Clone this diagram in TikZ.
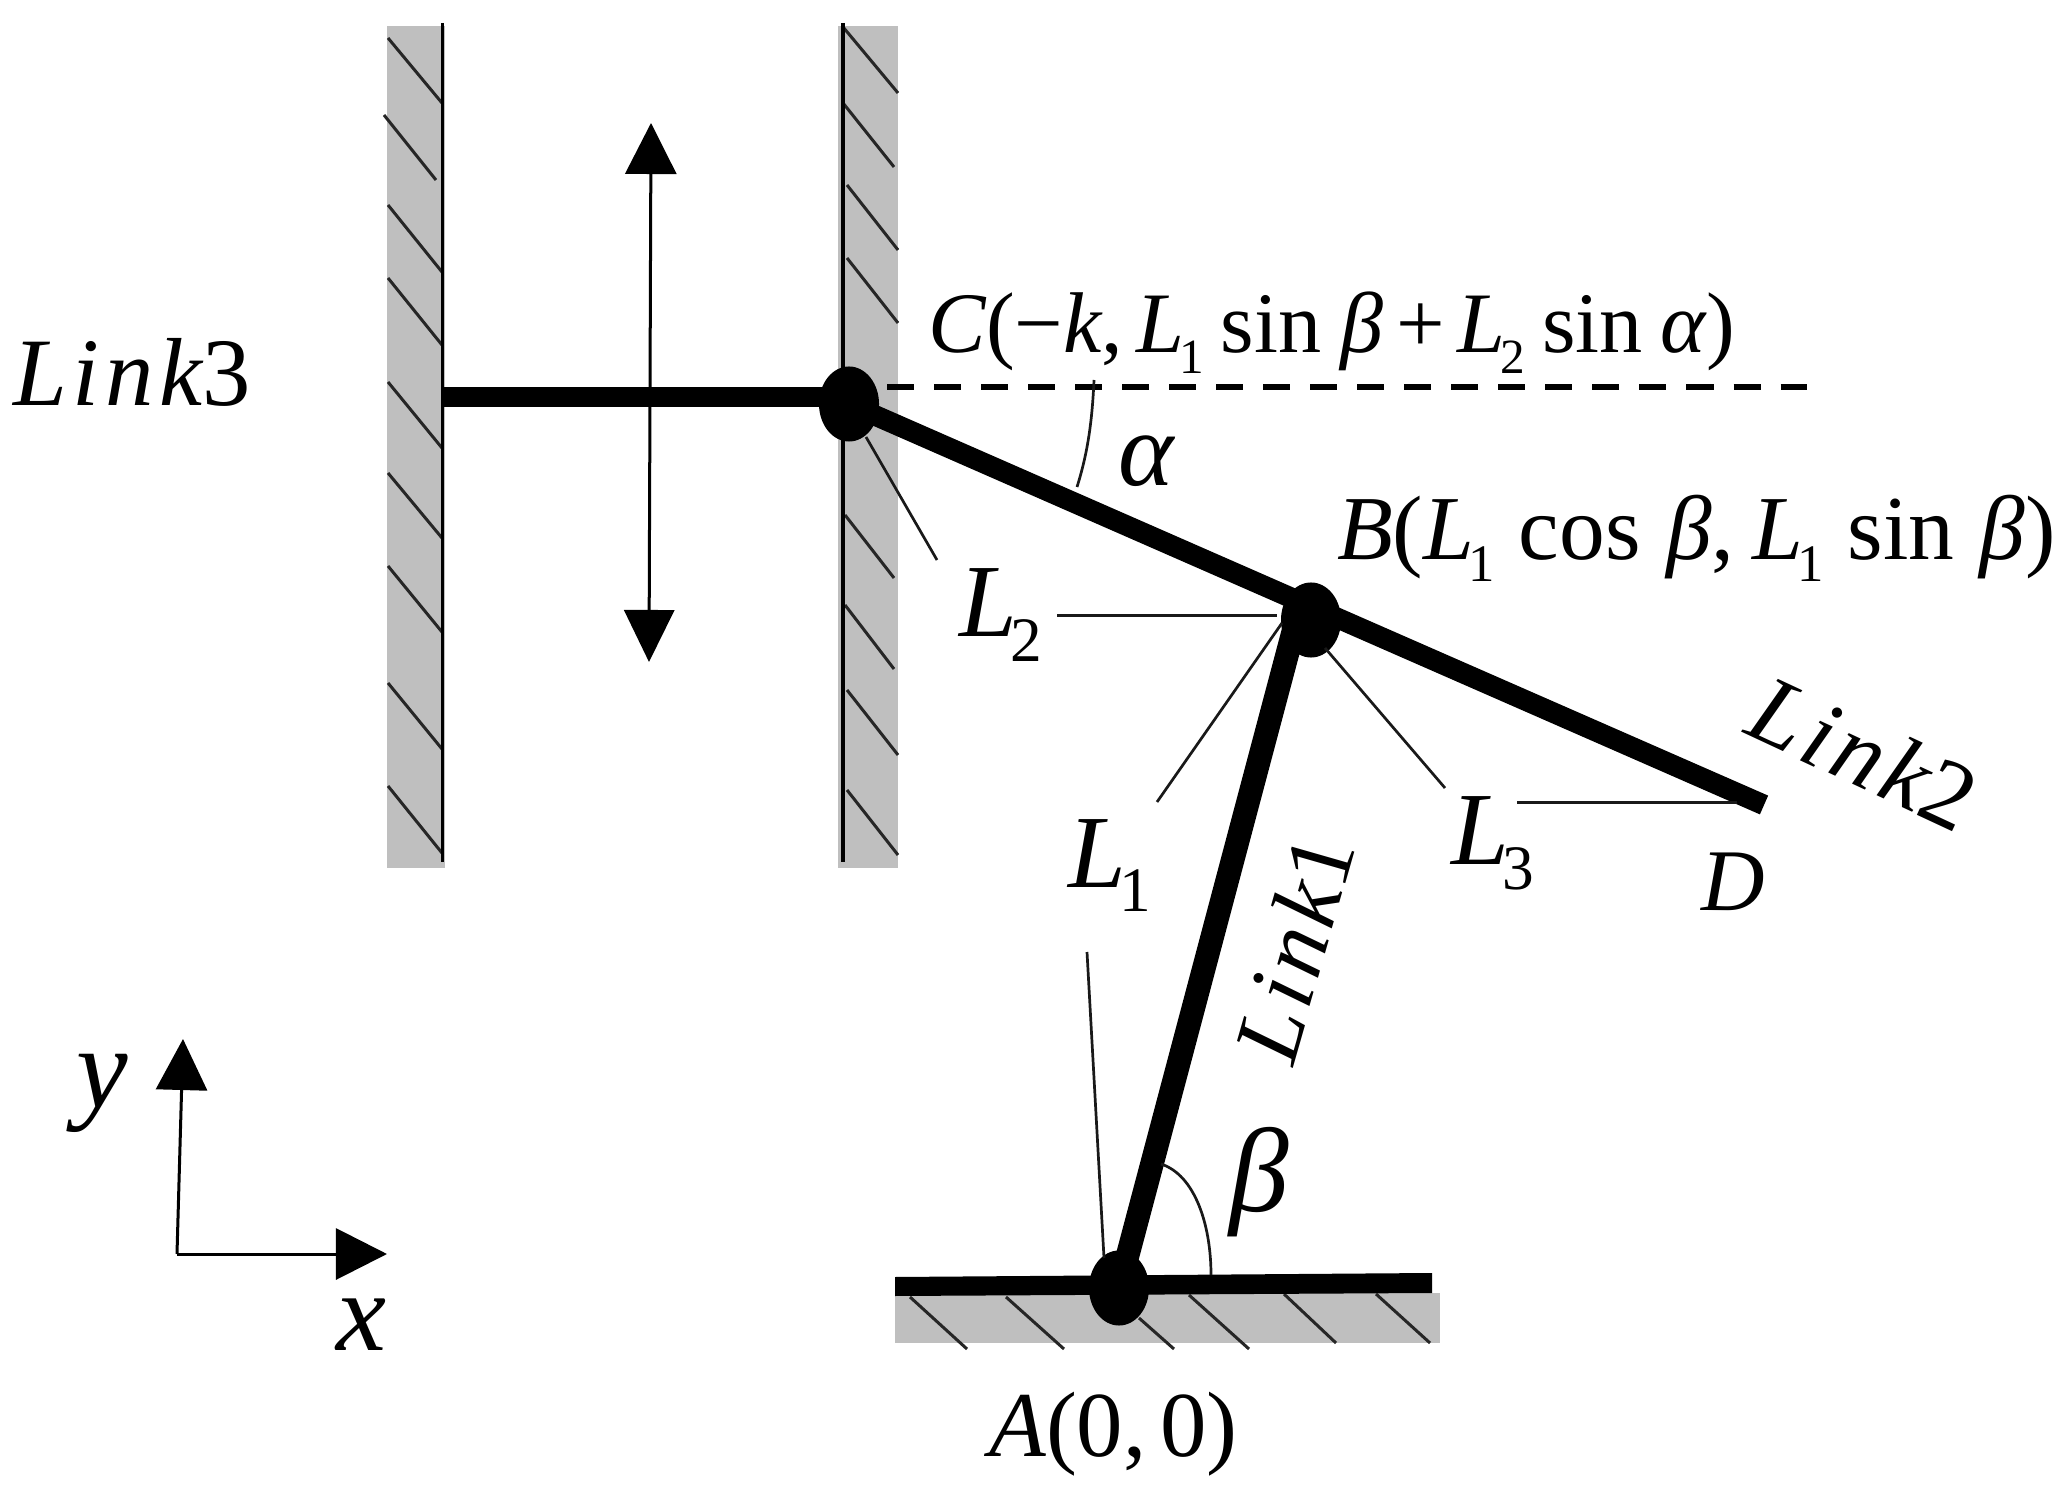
\documentclass[tikz,border=0pt]{standalone}
\usepackage{fontspec}
\setmainfont{Liberation Serif}
\usetikzlibrary{arrows.meta,shapes.geometric}
\newcommand\fsz[1]{\fontsize{#1pt}{#1pt}\selectfont}
\newcommand\lsb[2]{\textit{L}\kern-0.06em\raisebox{-0.24em}{\fontsize{#2pt}{#2pt}\selectfont #1}}
\definecolor{wallgray}{HTML}{BFBFBF}
\tikzset{
  x=0.01cm,y=-0.01cm,
  wallfill/.style={fill=wallgray,draw=none},
  hatchline/.style={line width=0.03cm,black!85},
  wallline/.style={line width=0.038cm,black},
  barline/.style={line width=0.2cm,black},
  pointer/.style={line width=0.027cm,black!90},
  anglearc/.style={line width=0.027cm,black!90},
  joint/.style={ellipse,fill=black,inner sep=0pt,minimum width=0.6cm,minimum height=0.75cm},
  tag/.style={anchor=base west,inner sep=0pt,outer sep=0pt},
  linktext/.style={tag,font=\fsz{27.5}\itshape\addfontfeature{LetterSpace=6}},
  bigtri/.style={-{Triangle[length=0.51cm,width=0.51cm]},line width=0.03cm,black},
  twotri/.style={{Triangle[length=0.51cm,width=0.51cm]}-{Triangle[length=0.52cm,width=0.5cm]},line width=0.03cm,black},
}
\begin{document}
\begin{tikzpicture}
\useasboundingbox (0,0) rectangle (2070,1495);
% walls
\fill[wallfill] (387,26) rectangle (445,868);
\fill[wallfill] (838,26) rectangle (898,868);
\fill[wallfill] (895,1293) rectangle (1440,1343);
% hatching
\foreach \a/\b/\c/\d in {388/38/442/103,384/115/436/180,388/205/442/272,388/278/442/345,388/382/442/448,388/473/442/538,388/566/442/632,388/683/442/749,388/786/442/853,
 843/27/898/93,843/103/894/167,847/185/898/250,847/258/898/323,845/515/894/578,845/605/894/669,847/690/898/755,847/790/898/855,
 910/1297/967/1349,1006/1297/1064/1349,1139/1318/1174/1349,1189/1295/1249/1349,1284/1294/1336/1343,1376/1294/1430/1343}
  \draw[hatchline] (\a,\b) -- (\c,\d);
\draw[wallline] (442.5,23) -- (442.5,862);
\draw[wallline] (843,23) -- (843,862);
% ground bar
\fill[black] (895,1277) -- (1432,1273) -- (1432,1293) -- (895,1296) -- cycle;
% motion arrow
\coordinate (upTip) at (651,123);
\coordinate (downTip) at (649,662);
\draw[twotri] (upTip) -- (downTip);
% joints
\node[joint] (JC) at (849,404) {};
\node[joint] (JB) at (1311,620) {};
\node[joint] (JA) at (1119,1288) {};
% links
\coordinate (wallC) at (442,397);
\coordinate (barC) at (849,397);
\coordinate (endD) at (1764,805);
\coordinate (topL1) at (1295,625);
\draw[barline] (wallC) -- (barC);
\draw[barline,line width=0.205cm] (JC.center) -- (endD);
\draw[barline,line width=0.235cm] (JA.center) -- (topL1);
% dashed reference
\coordinate (dashS) at (887,387);
\coordinate (dashE) at (1807,387);
\draw[line width=0.06cm,dash pattern=on 0.27cm off 0.2cm] (dashS) -- (dashE);
% pointers
\coordinate (pL2a) at (866,437); \coordinate (pL2b) at (937,560);
\coordinate (pL2c) at (1057,616); \coordinate (pL2d) at (1277,616);
\coordinate (pL1a) at (1157,802); \coordinate (pL1b) at (1282,623);
\coordinate (pL1c) at (1087,952); \coordinate (pL1d) at (1104,1258);
\coordinate (pL3a) at (1445,788); \coordinate (pL3b) at (1325,648);
\coordinate (pL3c) at (1517,803); \coordinate (pL3d) at (1737,803);
\draw[pointer] (pL2a) -- (pL2b);
\draw[pointer,line width=0.03cm] (pL2c) -- (pL2d);
\draw[pointer] (pL1a) -- (pL1b);
\draw[pointer] (pL1c) -- (pL1d);
\draw[pointer] (pL3a) -- (pL3b);
\draw[pointer,line width=0.03cm] (pL3c) -- (pL3d);
% angle arcs
\coordinate (arcAa) at (1094,380); \coordinate (arcAb) at (1077,487);
\coordinate (arcBa) at (1161,1164); \coordinate (arcBb) at (1211,1275);
\draw[anglearc] (arcAa) .. controls (1092,425) and (1087,455) .. (arcAb);
\draw[anglearc] (arcBa) .. controls (1195,1175) and (1211,1225) .. (arcBb);
% axes
\coordinate (orig) at (177,1254);
\coordinate (yTip) at (183,1039);
\coordinate (xTip) at (387,1254);
\draw[bigtri] (orig) -- (yTip);
\draw[bigtri] (orig) -- (xTip);
% labels
\node[tag,font=\fsz{24.5}] (lblC) at (928,353) {\textit{C}(−\textit{k},\kern0.15em\lsb{1}{14}\kern0.2em sin\kern0.22em\textit{β}\kern0.15em+\kern0.15em\lsb{2}{14}\kern0.2em sin\kern0.2em\textit{α})};
\node[tag,font=\fsz{26}] (lblB) at (1337,560) {\textit{B}(\lsb{1}{15}\kern0.26em cos\kern0.28em\textit{β},\kern0.19em\lsb{1}{15}\kern0.26em sin\kern0.28em\textit{β})};
\node[tag,font=\fsz{26.4}] (lblA) at (989,1456) {\textit{A}(0,\kern0.15em 0)};
\node[tag,font=\fsz{25}\itshape] (lblD) at (1701,910) {D};
\node[tag,font=\fsz{29.5}] (lblL2) at (959,637) {\lsb{2}{18}};
\node[tag,font=\fsz{29.5}] (lblL3) at (1451,865) {\lsb{3}{18}};
\node[tag,font=\fsz{29.5}] (lblL1) at (1068,887) {\lsb{1}{18}};
\node[tag,font=\fsz{30}\itshape] (lblalpha) at (1118,486) {α};
\node[tag,font=\fsz{34}\itshape] (lblbeta) at (1229,1211) {β};
\node[tag,font=\fsz{33}\itshape] (lbly) at (76,1107) {y};
\node[tag,font=\fsz{32}\itshape] (lblx) at (336,1350) {x};
\node[linktext] (lnk3) at (13,406) {Link\upshape 3};
\node[linktext,rotate=-25] (lnk2) at (1742,733) {Link\upshape 2};
\node[linktext,rotate=74,font=\fsz{26.5}\itshape\addfontfeature{LetterSpace=6}] (lnk1) at (1293,1067) {Link\upshape 1};
\end{tikzpicture}
\end{document}
